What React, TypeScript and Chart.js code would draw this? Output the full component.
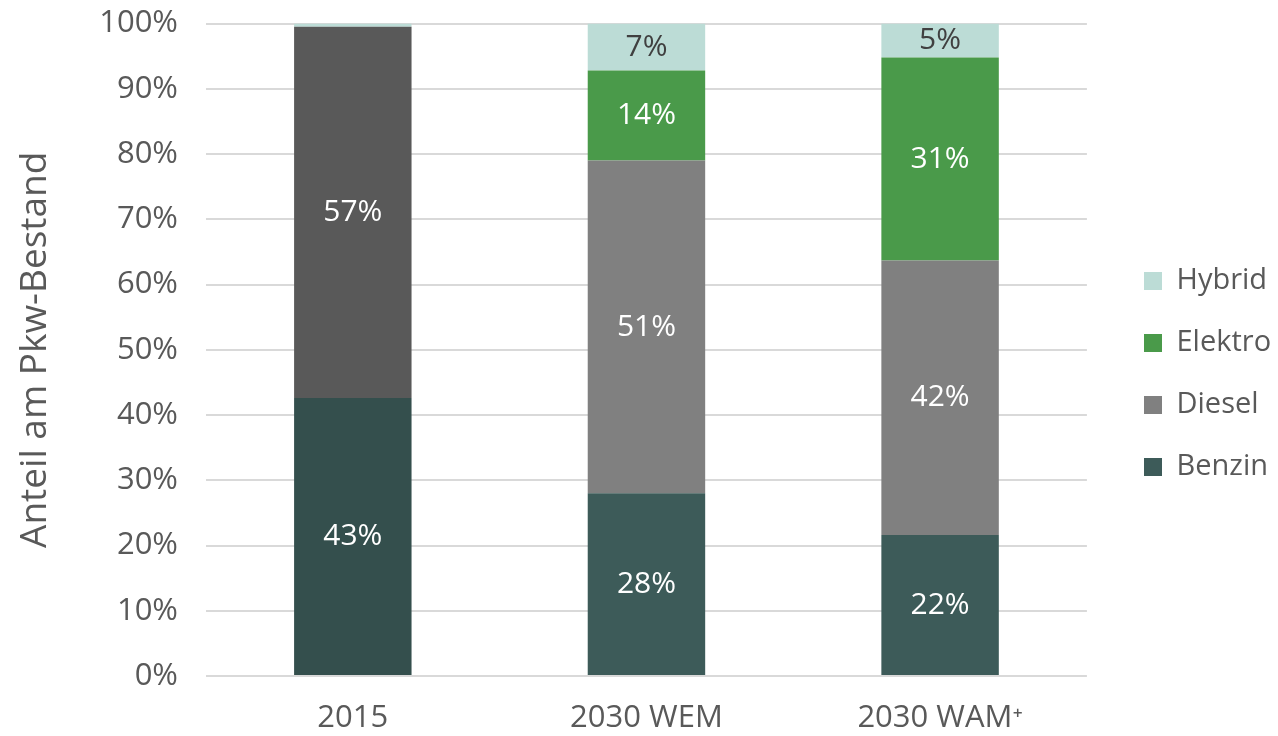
import React, { useEffect, useRef } from "react";
import { Chart, registerables } from "chart.js";

Chart.register(...registerables);

const categories = ["2015", "2030 WEM", "2030 WAM⁺"];
const benzin = [42.6, 28.0, 21.6];
const diesel = [56.9, 51.0, 42.1];
const elektro = [0, 13.8, 31.1];
const hybrid = [0.5, 7.2, 5.2];
const labelValues = {
  Benzin: ["43%", "28%", "22%"],
  Diesel: ["57%", "51%", "42%"],
  Elektro: ["", "14%", "31%"],
  Hybrid: ["", "7%", "5%"],
};
const yTicks = [0, 10, 20, 30, 40, 50, 60, 70, 80, 90, 100];

const FONT = "'Open Sans', 'Noto Sans', sans-serif";

const barLabelPlugin = {
  id: "barLabels",
  afterDatasetsDraw(chart: any) {
    const ctx = chart.ctx;
    chart.data.datasets.forEach((ds: any, di: number) => {
      const meta = chart.getDatasetMeta(di);
      const labels = (labelValues as any)[ds.label] as string[];
      meta.data.forEach((el: any, i: number) => {
        const txt = labels[i];
        if (!txt) return;
        const y = (el.y + el.base) / 2;
        ctx.save();
        ctx.font = `30px ${FONT}`;
        ctx.fillStyle = ds.label === "Hybrid" ? "#404040" : "#ffffff";
        ctx.textAlign = "center";
        ctx.textBaseline = "middle";
        ctx.fillText(txt, el.x, y);
        ctx.restore();
      });
    });
  },
};

const legendShiftPlugin = {
  id: "legendShift",
  afterLayout(chart: any) {
    const lg = chart.legend;
    if (lg) {
      const shift = 1144 - (lg.left + lg.options.labels.padding);
      lg.left += shift;
      lg.right += shift;
      lg.top += 6;
      lg.bottom += 6;
    }
  },
};

export default function App() {
  const ref = useRef<HTMLCanvasElement>(null);
  useEffect(() => {
    const chart = new Chart(ref.current!, {
      type: "bar",
      data: {
        labels: categories,
        datasets: [
          {
            label: "Benzin",
            data: benzin,
            backgroundColor: ["#344f4d", "#3d5b59", "#3d5b59"],
          },
          {
            label: "Diesel",
            data: diesel,
            backgroundColor: ["#595959", "#808080", "#808080"],
          },
          {
            label: "Elektro",
            data: elektro,
            backgroundColor: "#4a9a4a",
          },
          {
            label: "Hybrid",
            data: hybrid,
            backgroundColor: "#bcdcd6",
          },
        ],
      },
      options: {
        animation: false,
        responsive: true,
        maintainAspectRatio: false,
        layout: { padding: { left: 0, right: 21, top: 0, bottom: 0 } },
        datasets: { bar: { categoryPercentage: 1, barPercentage: 0.4 } },
        scales: {
          x: {
            stacked: true,
            afterFit: (axis: any) => {
              axis.height = 60;
            },
            grid: { display: false, drawTicks: false },
            border: { display: false },
            ticks: { color: "#595959", font: { family: FONT, size: 31 }, padding: 24 },
          },
          y: {
            stacked: true,
            min: 0,
            max: 100,
            afterFit: (axis: any) => {
              axis.width = 206;
            },
            afterBuildTicks: (axis: any) => {
              axis.ticks = yTicks.map((v) => ({ value: v }));
            },
            grid: {
              color: "#d9d9d9",
              lineWidth: 2,
              drawTicks: true,
              tickLength: 23,
              tickColor: "rgba(0,0,0,0)",
            },
            border: { display: false },
            ticks: {
              color: "#595959",
              font: { family: FONT, size: 31 },
              padding: 5,
              callback: (v: any) => v + "%",
            },
            title: {
              display: true,
              text: "Anteil am Pkw-Bestand",
              color: "#595959",
              font: { family: FONT, size: 37 },
              padding: { top: 13, bottom: 8 },
            },
          },
        },
        plugins: {
          tooltip: { enabled: false },
          legend: {
            position: "right",
            reverse: true,
            labels: {
              color: "#595959",
              font: { family: FONT, size: 29 },
              boxWidth: 18,
              boxHeight: 18,
              padding: 33,
              generateLabels: (chart: any) =>
                chart.data.datasets.map((ds: any, i: number) => ({
                  text: ds.label,
                  fillStyle: ds.label === "Benzin" ? "#3d5b59" : ds.label === "Diesel" ? "#808080" : ds.backgroundColor,
                  strokeStyle: "transparent",
                  lineWidth: 0,
                  datasetIndex: i,
                  fontColor: "#595959",
                })),
            },
          },
        },
      },
      plugins: [barLabelPlugin, legendShiftPlugin],
    } as any);
    return () => chart.destroy();
  }, []);
  return (
    <div style={{ position: "fixed", left: 0, top: 0, width: 1278, height: 736, background: "#fff" }}>
      <canvas ref={ref} />
    </div>
  );
}
